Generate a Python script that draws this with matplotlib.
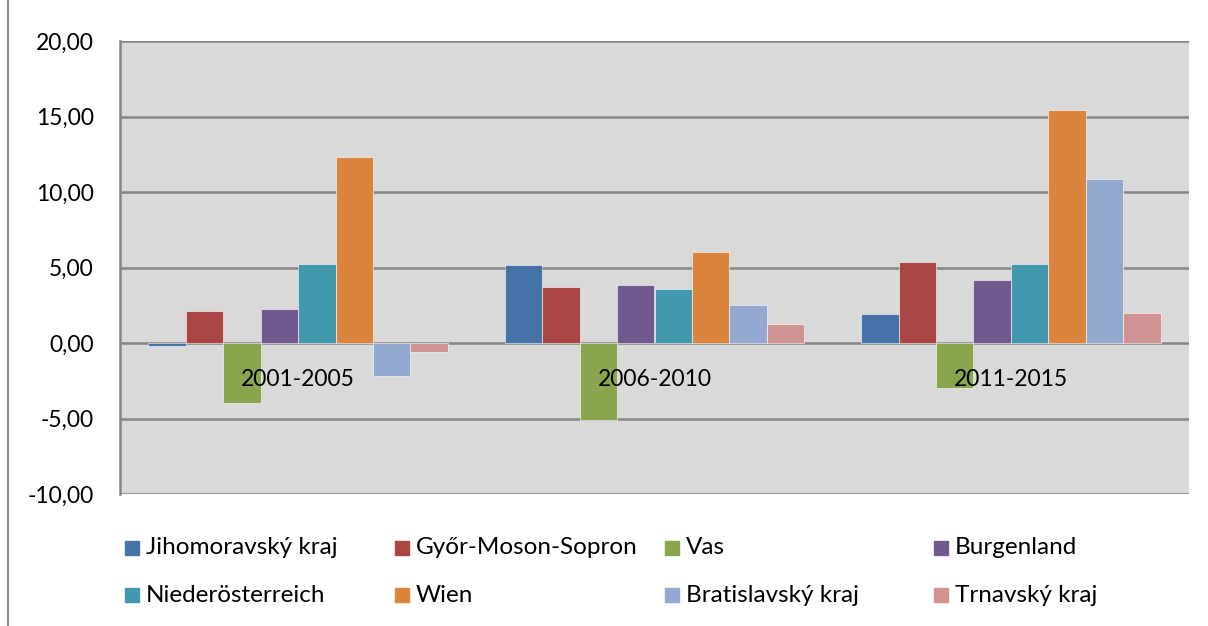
import numpy as np
import matplotlib.pyplot as plt
from matplotlib.patches import Rectangle
from matplotlib.lines import Line2D

plt.rcParams['font.family'] = ['Lato', 'DejaVu Sans']

periods = ['2001-2005', '2006-2010', '2011-2015']
regions = ['Jihomoravský kraj', 'Győr-Moson-Sopron', 'Vas', 'Burgenland',
           'Niederösterreich', 'Wien', 'Bratislavský kraj', 'Trnavský kraj']
jihomoravsky = [-0.2, 5.15, 1.9]
gyor = [2.1, 3.7, 5.35]
vas = [-3.95, -5.13, -2.95]
burgenland = [2.23, 3.83, 4.16]
niederoesterreich = [5.22, 3.57, 5.24]
wien = [12.34, 6.0, 15.4]
bratislava = [-2.2, 2.49, 10.84]
trnava = [-0.57, 1.24, 1.98]
values = [jihomoravsky, gyor, vas, burgenland, niederoesterreich, wien, bratislava, trnava]
colors = ['#4572A7', '#AA4643', '#89A54E', '#71588F',
          '#4198AF', '#DB843D', '#93A9CF', '#D19392']

W, H = 1208, 626
fig = plt.figure(figsize=(W / 100, H / 100), dpi=100)
ax = fig.add_axes([120 / W, 1 - 494 / H, (1189 - 120) / W, (494 - 41) / H])
ax.set_facecolor('#D9D9D9')

x = np.arange(len(periods))
n = len(regions)
w = 1 / (n + 1.52)
for i, (vals, c) in enumerate(zip(values, colors)):
    ax.bar(x + (i - (n - 1) / 2) * w, vals, w, color=c, edgecolor='#FFFFFF', linewidth=0.4, zorder=3)

ax.set_xlim(-0.5, 2.5)
ax.set_ylim(-10, 20)
yt = np.arange(-10, 21, 5)
ax.set_yticks(yt)
ax.set_yticklabels([f'{v:.2f}'.replace('.', ',') for v in yt], fontsize=16.5)
ax.yaxis.grid(True, color='#868686', linewidth=1.8, zorder=1)
ax.set_xticks([])
ax.tick_params(axis='y', length=0, pad=19)
ax.spines['left'].set_color('#868686')
ax.spines['left'].set_linewidth(1.8)
for s in ('top', 'bottom', 'right'):
    ax.spines[s].set_visible(False)

for xi, p in zip(x, periods):
    ax.annotate(p, xy=(xi, 0), xytext=(0, -37), textcoords='offset pixels',
                ha='center', va='center', fontsize=16.5, zorder=4)

# legend, 2 rows x 4 columns
col_x = [125, 395, 665, 934]
row_y = [548, 595]
for i, (r, c) in enumerate(zip(regions, colors)):
    px, py = col_x[i % 4], row_y[i // 4]
    fig.patches.append(Rectangle((px / W, 1 - (py + 7) / H), 14 / W, 14 / H,
                                 transform=fig.transFigure, color=c))
    fig.text((px + 21) / W, 1 - py / H, r, fontsize=17.5, va='center', ha='left')

fig.lines.append(Line2D([8 / W, 8 / W], [0, 1], transform=fig.transFigure,
                        color='#868686', linewidth=1.5))

fig.savefig('out.png', dpi=100)
